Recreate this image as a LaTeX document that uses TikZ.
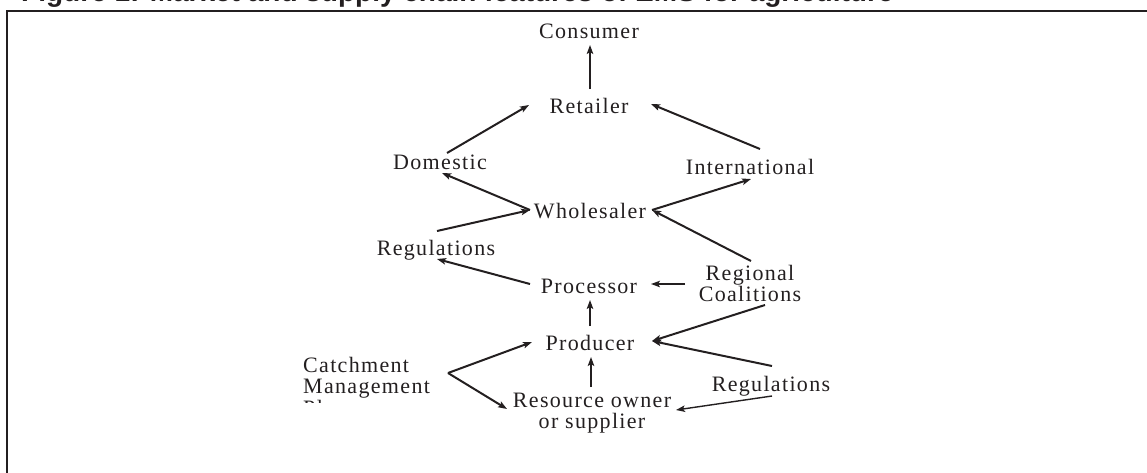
\documentclass[tikz,border=0pt]{standalone}
\usepackage{fontspec}
\setmainfont{Liberation Serif}[LetterSpace=6]
\newfontfamily\headfont{Liberation Sans}
\usetikzlibrary{arrows.meta,calc}
\definecolor{ink}{HTML}{231F20}
\newcommand{\stack}[2][c]{\begin{tabular}[t]{@{}#1@{}}#2\end{tabular}}
\begin{document}
\begin{tikzpicture}[x=1pt,y=-1pt,
  lbl/.style={inner sep=0pt, anchor=base, text=ink, font=\fontsize{22}{21.5}\selectfont},
  flow/.style={draw=ink, line width=2pt, -{Stealth[length=9pt,width=6.5pt,inset=2pt]}},
  thinflow/.style={flow, line width=1.4pt}]
\useasboundingbox (0,0) rectangle (1147,472);
\clip (0,0) rectangle (1147,472);

% caption and frame
\node[anchor=base west, inner sep=0pt, text=ink] (title) at (21,1.5)
  {\headfont\bfseries\fontsize{28}{32}\selectfont Figure 1: Market and supply chain features of EMS for agriculture};
\draw[ink, line width=2pt] (7,490) |- (1170,11);

% chain members
\node[lbl] (con)  at (589,38)  {Consumer};
\node[lbl] (ret)  at (589,113) {Retailer};
\node[lbl] (dom)  at (440,169) {Domestic};
\node[lbl] (intl) at (750,174) {International};
\node[lbl] (who)  at (590,218) {Wholesaler};
\node[lbl] (regL) at (436,255) {Regulations};
\node[lbl] (proc) at (589,293) {Processor};
\node[lbl] (rc)   at (750,280) {\stack{Regional\\Coalitions}};
\node[lbl] (prod) at (590,350) {Producer};
\node[lbl] (regR) at (771,391) {Regulations};
\node[lbl] (res)  at (592,407) {\stack{Resource owner\\or supplier}};
\begin{scope}
  \clip (290,340) rectangle (446,402);
  \node[lbl, anchor=base west] (cmp) at (303,372) {\stack[l]{Catchment\\Management\\Plans}};
\end{scope}

% flows
\draw[flow] ($(ret.base)+(1,-24)$) -- ($(con.base)+(1,7)$);
\draw[flow] ($(dom.base)+(7,-16)$) -- ($(ret.base)+(-60,-8)$);
\draw[flow] ($(intl.base)+(10,-25)$) -- ($(ret.base)+(62,-9)$);
\draw[flow] ($(who.base)+(-60,-8)$) -- ($(dom.base)+(2,4)$);
\draw[flow] ($(regL.base)+(1,-24)$) -- ($(who.base)+(-60,-8)$);
\draw[flow] ($(who.base)+(62,-8)$) -- ($(intl.base)+(1,5)$);
\draw[flow] ($(rc.base)+(1,-19)$) -- ($(who.base)+(62,-8)$);
\draw[flow] ($(proc.base)+(-59,-9)$) -- ($(regL.base)+(1,4)$);
\draw[thinflow] ($(rc.base)+(-65,4)$) -- ($(proc.base)+(62,-9)$);
\draw[flow] ($(prod.base)+(0,-24)$) -- ($(proc.base)+(1,7)$);
\draw[flow] ($(rc.base)+(15,25)$) -- ($(prod.base)+(62,-9)$);
\draw[flow] ($(regR.base)+(1,-25)$) -- ($(prod.base)+(62,-9)$);
\draw[flow] ($(cmp.base west)+(145,1)$) -- ($(prod.base)+(-58,-8)$);
\draw[flow] ($(cmp.base west)+(145,1)$) -- ($(res.base)+(-85,2)$);
\draw[flow] ($(res.base)+(-1,-20)$) -- ($(prod.base)+(1,7)$);
\draw[thinflow] ($(regR.base)+(1,5)$) -- ($(res.base)+(84,3)$);
\end{tikzpicture}
\end{document}
